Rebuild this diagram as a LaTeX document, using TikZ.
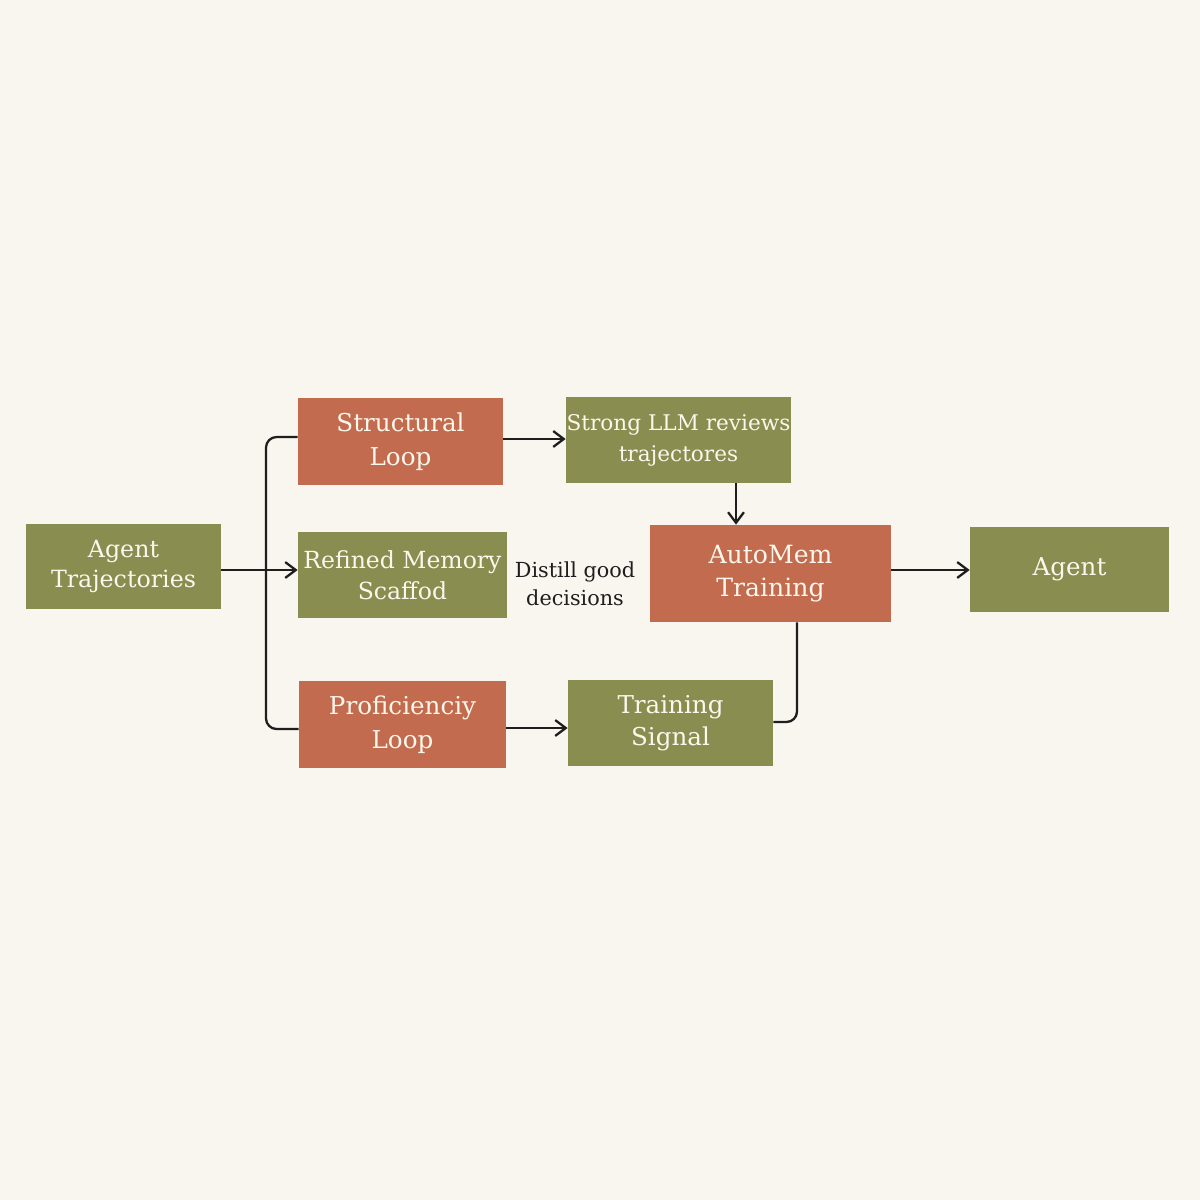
\documentclass[tikz,border=0pt]{standalone}
\usepackage{fontspec}
\setmainfont{DejaVu Serif}
\usetikzlibrary{arrows.meta}
\definecolor{bgc}{HTML}{F8F6EE}
\definecolor{olive}{HTML}{8A8D50}
\definecolor{rust}{HTML}{C36B4E}
\definecolor{paper}{HTML}{FBF7EC}
\definecolor{ink}{HTML}{1E1E1E}
\tikzset{
  box/.style={rectangle, inner sep=0pt, align=center, text=paper},
  gbox/.style={box, fill=olive},
  obox/.style={box, fill=rust},
  conn/.style={draw=ink, line width=1.3pt},
  arr/.style={conn, -{Straight Barb[length=6pt,width=9pt,line width=1.3pt]}},
}
\begin{document}
\begin{tikzpicture}[x=0.02cm,y=-0.02cm]
\fill[bgc] (0,0) rectangle (1200,1200);
\useasboundingbox (0,0) rectangle (1200,1200);

\node[gbox, minimum width=3.9cm, minimum height=1.7cm, font=\fontsize{13.5}{17.6}\selectfont] (at) at (123.5,566.5) {Agent\\Trajectories};
\node[obox, minimum width=4.1cm, minimum height=1.74cm, font=\fontsize{14}{19.2}\selectfont] (sl) at (400.5,441.5) {Structural\\Loop};
\node[gbox, minimum width=4.5cm, minimum height=1.72cm, font=\fontsize{12.3}{17.6}\selectfont] (sr) at (678.5,440) {Strong LLM reviews\\trajectores};
\node[gbox, minimum width=4.18cm, minimum height=1.72cm, font=\fontsize{13.4}{17.6}\selectfont] (rm) at (402.5,575) {Refined Memory\\Scaffod};
\node[obox, minimum width=4.82cm, minimum height=1.94cm, font=\fontsize{14.3}{18.8}\selectfont] (am) at (770.5,573.5) {AutoMem\\Training};
\node[gbox, minimum width=3.98cm, minimum height=1.7cm, font=\fontsize{14}{17.6}\selectfont] (ag) at (1069.5,569.5) {Agent};
\node[obox, minimum width=4.14cm, minimum height=1.74cm, font=\fontsize{14}{19.2}\selectfont] (pl) at (402.5,724.5) {Proficienciy\\Loop};
\node[gbox, minimum width=4.1cm, minimum height=1.72cm, font=\fontsize{14}{18.2}\selectfont] (ts) at (670.5,723) {Training\\Signal};
\node[align=center, inner sep=0pt, text=ink, font=\fontsize{11.8}{15.9}\selectfont] (dg) at (575,584) {Distill good\\decisions};

\coordinate (vx) at (266,0);
\coordinate (dx) at (736,0);
\coordinate (ux) at (797,0);
\coordinate (sw) at ([yshift=4.5*0.02cm]sl.west);
\coordinate (pw) at ([yshift=-4.5*0.02cm]pl.west);

\draw[conn, rounded corners=6pt] (sw) -| (vx |- pw) -- (pw);
\draw[arr] ([yshift=-3.5*0.02cm]at.east) -- ([yshift=-3.5*0.02cm]at.east -| rm.west);
\draw[arr] ([yshift=2.5*0.02cm]sl.east) -- ([yshift=2.5*0.02cm]sl.east -| sr.west);
\draw[arr] (sr.south -| dx) -- (am.north -| dx);
\draw[arr] ([yshift=-3.5*0.02cm]pl.east) -- ([yshift=-3.5*0.02cm]pl.east -| ts.west);
\draw[conn, rounded corners=6pt] ([yshift=1*0.02cm]ts.east) -| (am.south -| ux);
\draw[arr] ([yshift=3.5*0.02cm]am.east) -- ([yshift=3.5*0.02cm]am.east -| ag.west);
\end{tikzpicture}
\end{document}
